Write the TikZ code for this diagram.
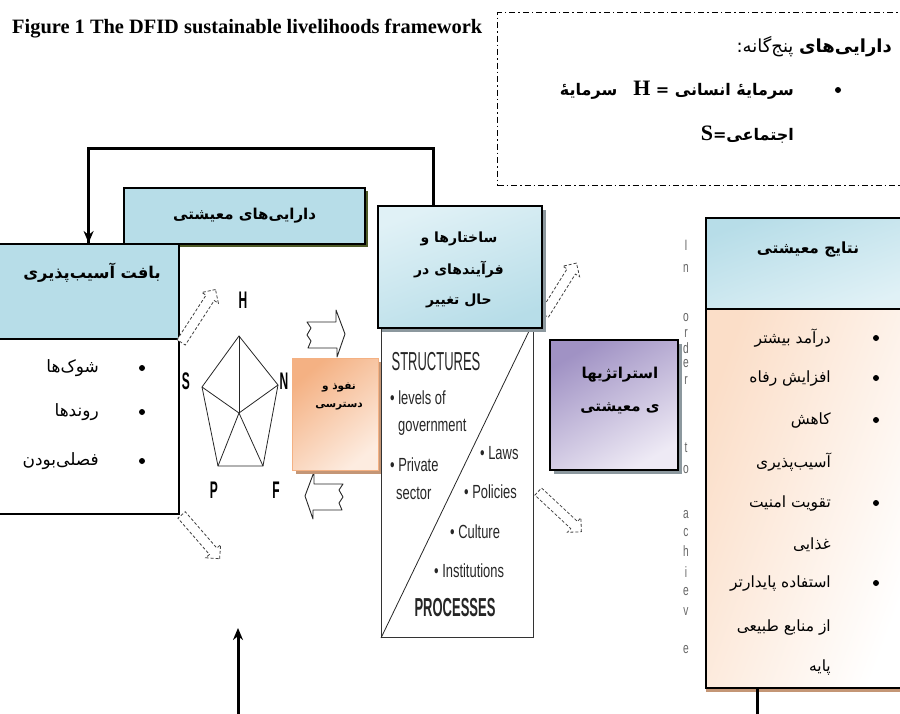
\documentclass[tikz,border=0pt]{standalone}
\usepackage{fontspec}
\setmainfont{Liberation Serif}
\newfontfamily\fa[Script=Arabic]{DejaVu Sans}
\newfontfamily\narrowhd[FakeStretch=0.5]{Liberation Sans}
\newfontfamily\narrowit[FakeStretch=0.68]{Liberation Sans}
\TeXXeTstate=1
\usetikzlibrary{arrows.meta,positioning,shapes.arrows,shadows}
\definecolor{slblue}{RGB}{183,221,232}
\definecolor{slbluelt}{RGB}{224,241,246}
\definecolor{slolive}{RGB}{79,92,40}
\definecolor{slorange}{RGB}{244,177,131}
\definecolor{slorangelt}{RGB}{253,236,224}
\definecolor{slpeach}{RGB}{251,222,200}
\definecolor{slpurple}{RGB}{160,146,196}
\definecolor{slpurplelt}{RGB}{238,234,245}
\definecolor{slshade}{RGB}{140,152,158}
\definecolor{slbrown}{RGB}{196,150,118}
\newcommand{\rl}[1]{\beginR #1\endR}
\tikzset{
  panel/.style={draw=black,line width=2.2pt,inner sep=0pt,anchor=north west},
  fahead/.style={font=\fa\bfseries\fontsize{15}{17}\selectfont,inner sep=1pt,align=center},
  faitem/.style={font=\fa\fontsize{15.5}{17}\selectfont,inner sep=1pt,anchor=east},
  vitem/.style={faitem,font=\fa\fontsize{17}{19}\selectfont},
  fasmall/.style={font=\fa\bfseries\fontsize{10.5}{12}\selectfont,inner sep=1pt,align=center},
  fabig/.style={font=\fa\bfseries\fontsize{16}{18}\selectfont,inner sep=1pt,anchor=east},
  dot/.style={circle,fill=black,inner sep=0pt,minimum size=6pt},
  sptext/.style={font=\narrowit\fontsize{19}{21}\selectfont,inner sep=0pt,anchor=west,text=black!85},
  sphead/.style={font=\narrowhd\fontsize{26}{28}\selectfont,inner sep=0pt,text=black!85},
  pentlabel/.style={font=\narrowhd\bfseries\fontsize{24}{26}\selectfont,inner sep=0pt},
  vlet/.style={font=\narrowit\fontsize{15}{15}\selectfont,inner sep=0pt,text=black!60},
  penta/.style={draw=black!85,line width=0.8pt},
  hollow/.style={single arrow,draw=black!75,densely dashed,line width=0.8pt,fill=white,
                 inner sep=4.5pt,single arrow head extend=5pt},
  chevron/.style={draw=black!85,line width=0.9pt,fill=white,line join=round},
  fback/.style={draw=black,line width=3pt},
}
\begin{document}
\begin{tikzpicture}[x=1pt,y=-1pt]
\clip (0,0) rectangle (900,713);
% title
\node[font=\bfseries\fontsize{20.4}{22}\selectfont,anchor=base west,inner sep=0pt] (title) at (12,33)
 {Figure 1 The DFID sustainable livelihoods framework};
% five assets note
\node[draw=black,line width=1.4pt,dash pattern=on 6pt off 3pt on 1.5pt off 3pt,
      anchor=north west,minimum width=415,minimum height=173,inner sep=0pt] (five) at (497,12) {};
\node[font=\fa\fontsize{18}{20}\selectfont,inner sep=1pt,anchor=east] (fiveA) at (893,47)
 {\rl{\textbf{دارایی‌های} پنج‌گانه:}};
\node[dot] (fiveD) at (838,90) {};
\node[fabig] (fiveB) at (795,90) {\rl{سرمایهٔ انسانی = {\rmfamily\fontsize{22}{22}\selectfont H}\quad سرمایهٔ}};
\node[fabig] (fiveC) at (795,135) {\rl{اجتماعی={\rmfamily\fontsize{22}{22}\selectfont S}}};
% feedback line
\coordinate (fbtop) at (433,148);
% assets
\node[panel,fill=slblue,minimum width=241,minimum height=56,
      general shadow={fill=slolive,shadow xshift=3pt,shadow yshift=-3pt},font=\fa\bfseries\fontsize{15}{17}\selectfont]
 (assets) at (123,187) {\rl{دارایی‌های معیشتی}};
% vulnerability context
\node[panel,fill=slblue,minimum width=181,minimum height=95] (vhead) at (-3,243) {};
\node[panel,fill=white,minimum width=181,minimum height=175] (vbody) at (-3,338) {};
\node[fahead,font=\fa\bfseries\fontsize{16.2}{18}\selectfont] (vheadl) at (92,273) {\rl{بافت آسیب‌پذیری}};
\foreach \txt/\yy [count=\i] in {شوک‌ها/368,روندها/412,فصلی‌بودن/461}{
  \node[dot] (vdot\i) at (142,\yy) {};
  \node[vitem] (vitem\i) at (100,\yy) {\rl{\txt}};
}
% pentagon
\coordinate (pH) at (239,336);
\coordinate (pS) at (202,387);
\coordinate (pN) at (278,385);
\coordinate (pP) at (218,466);
\coordinate (pF) at (263,466);
\coordinate (pC) at (239,413);
\draw[penta] (pH) -- (pN) -- (pF) -- (pP) -- (pS) -- cycle;
\foreach \v in {pH,pS,pN,pP,pF} \draw[penta] (pC) -- (\v);
\node[pentlabel] (lH) at (243,300) {H};
\node[pentlabel] (lS) at (186,381) {S};
\node[pentlabel] (lN) at (284,381) {N};
\node[pentlabel] (lP) at (214,490) {P};
\node[pentlabel] (lF) at (276,490) {F};
% hollow arrows
\node[hollow,minimum height=63,rotate=57] (h1) at (197,318) {};
\node[hollow,minimum height=58,rotate=-49] (h2) at (199,535) {};
\node[hollow,minimum height=61,rotate=58] (h3) at (559,291) {};
\node[hollow,minimum height=59,rotate=-43] (h4) at (558,510) {};
% notched block arrows (in / out of access)
\begin{scope}[shift={(325,333)}]
  \draw[chevron] (-18,-11) -- (11,-11) -- (11,-23) -- (20,1) -- (12,24) -- (12,15) -- (-17,15)
    -- (-14,8) -- (-18,2) -- (-14,-5) -- cycle;
\end{scope}
\begin{scope}[shift={(325,495)},xscale=-1]
  \draw[chevron] (-18,-11) -- (11,-11) -- (11,-23) -- (20,1) -- (12,24) -- (12,15) -- (-17,15)
    -- (-14,8) -- (-18,2) -- (-14,-5) -- cycle;
\end{scope}
% access
\node[panel,draw=slorange,line width=1pt,top color=slorange,bottom color=slorangelt,shading angle=40,
      general shadow={fill=slbrown,shadow xshift=3pt,shadow yshift=-3pt},
      minimum width=86,minimum height=112] (access) at (292,358) {};
\node[fasmall] (accessl) at (339,396) {\rl{نفوذ و}\\[6pt]\rl{دسترسی}};
% structures and processes
\node[draw=black!80,line width=1pt,anchor=north west,minimum width=152,minimum height=310,inner sep=0pt]
 (spbox) at (381,327) {};
\coordinate (diagtop) at (531,327);
\draw[draw=black!85,line width=0.8pt] (spbox.south west) -- (diagtop);
\node[sphead] (spS) at (436,362) {STRUCTURES};
\node[sptext] (sp1) at (390,398) {• levels of};
\node[sptext] (sp2) at (398,427) {government};
\node[sptext] (sp3) at (390,465) {• Private};
\node[sptext] (sp4) at (396,493) {sector};
\node[sptext] (sp5) at (480,453) {• Laws};
\node[sptext] (sp6) at (464,492) {• Policies};
\node[sptext] (sp7) at (450,532) {• Culture};
\node[sptext] (sp8) at (434,571) {• Institutions};
\node[sphead,font=\narrowhd\bfseries\fontsize{26}{28}\selectfont] (spP) at (455,608) {PROCESSES};
\node[panel,top color=slbluelt,bottom color=slblue,shading angle=20,
      general shadow={fill=slshade,shadow xshift=4pt,shadow yshift=-4pt},
      minimum width=164,minimum height=122] (sbox) at (377,205) {};
\node[fahead,font=\fa\bfseries\fontsize{14}{16}\selectfont] (sboxl) at (459,270)
 {\rl{ساختارها و}\\[14pt]\rl{فرآیندهای در}\\[14pt]\rl{حال تغییر}};
\draw[fback] (sbox.north -| fbtop) -- (fbtop) -| (vhead.north);
\draw[fback,-{Stealth[length=12pt,width=10pt]}] (fbtop -| vhead.north) -- (vhead.north);
% strategies
\node[panel,top color=slpurple,bottom color=slpurplelt,shading angle=30,
      general shadow={fill=slshade,shadow xshift=4pt,shadow yshift=-4pt},
      minimum width=128,minimum height=130] (strat) at (549,339) {};
\node[fahead] (stratl) at (620,391) {\rl{استراتژیها}\\[16pt]\rl{ی معیشتی}};
% in order to achieve
\foreach \ch/\yy in {I/245,n/268,o/318,r/333,d/348,e/364,r/380,t/448,o/470,a/515,c/533,h/551,i/572,e/592,v/612,e/650}
  \node[vlet] (v\yy) at (686,\yy) {\ch};
% outcomes
\node[panel,top color=slblue,bottom color=slbluelt,shading angle=20,minimum width=200,minimum height=91]
 (ohead) at (705,217) {};
\node[panel,left color=slpeach,right color=white,shading angle=70,
      general shadow={fill=slbrown,shadow xshift=0pt,shadow yshift=-4pt},
      minimum width=200,minimum height=379] (obody) at (705,308) {};
\node[fahead,font=\fa\bfseries\fontsize{15.4}{17}\selectfont] (oheadl) at (808,250) {\rl{نتایج معیشتی}};
\foreach \txt/\yy in {درآمد بیشتر/338,افزایش رفاه/378,کاهش/420,تقویت امنیت/503,استفاده پایدارتر/583}
  \node[dot] (odot\yy) at (876,\yy) {};
\foreach \txt/\yy in {درآمد بیشتر/338,افزایش رفاه/378,کاهش/420,آسیب‌پذیری/462,تقویت امنیت/503,غذایی/545,استفاده پایدارتر/583,از منابع طبیعی/627,پایه/667}
  \node[faitem] (oitem\yy) at (832,\yy) {\rl{\txt}};
% bottom connectors
\coordinate (upbase) at (238,716);
\coordinate (uptip) at (238,628);
\draw[fback,-{Stealth[length=12pt,width=10pt]}] (upbase) -- (uptip);
\coordinate (outbot) at (757,716);
\draw[fback] (obody.south -| outbot) -- (outbot);
\end{tikzpicture}
\end{document}
